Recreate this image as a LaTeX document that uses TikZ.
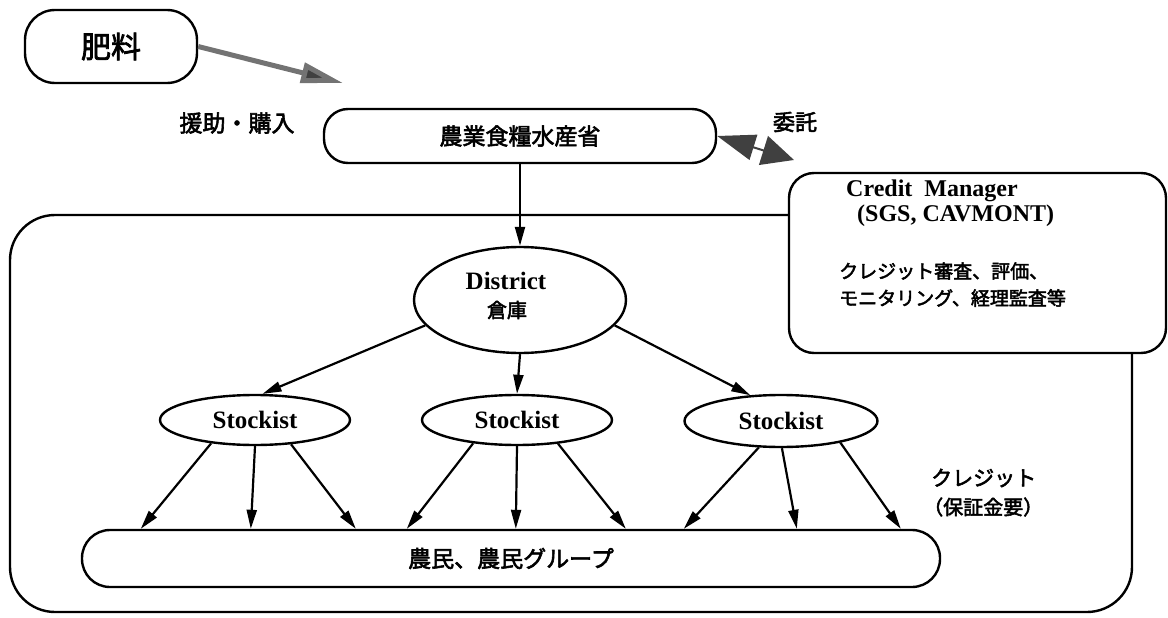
\documentclass[tikz,border=0pt]{standalone}
\usepackage{fontspec}
\setmainfont{Liberation Serif}
\newfontfamily\jp[FakeBold=2.5]{Noto Sans CJK JP}
\usetikzlibrary{arrows.meta,shapes.geometric}
\newcommand\myfs[1]{\fontsize{#1}{#1}\selectfont}
\begin{document}
\begin{tikzpicture}[x=1pt,y=-1pt,line width=2.4pt,
  rbox/.style={draw, rectangle, rounded corners=#1, inner sep=0pt, line width=2.4pt},
  ell/.style={draw, ellipse, inner sep=0pt, line width=2.4pt},
  arr/.style={-{Triangle[length=19pt,width=10pt]}, line width=2.2pt},
  hatcharr/.style={draw=black!55, line width=5pt, -{Triangle[length=42pt,width=20pt,fill=black!75]}},
  dblarr/.style={draw=black!75, line width=2pt, {Triangle[length=38pt,width=26pt]}-{Triangle[length=32pt,width=30pt]}},
  jtext/.style={font=\jp\myfs{#1}, inner sep=0pt},
  etext/.style={font=\bfseries\myfs{#1}, inner sep=0pt}]
\useasboundingbox (0,0) rectangle (1168,618);
% outer frame
\node[rbox=45pt, minimum width=1122pt, minimum height=397pt] (frame) at (571,413.5) {};
% credit manager box
\node[rbox=25pt, fill=white, minimum width=377pt, minimum height=180pt] (credit) at (977.5,263) {};
\node[etext=24, anchor=west] (cm1) at (845,191) {Credit\ \ Manager};
\node[etext=24, anchor=west] (cm2) at (856,216) {(SGS, CAVMONT)};
\node[jtext=19, anchor=west] (cm3) at (838,271) {クレジット審査、評価、};
\node[jtext=19, anchor=west] (cm4) at (838,298) {モニタリング、経理監査等};
% top boxes
\node[rbox=30pt, minimum width=172pt, minimum height=73pt, jtext=30] (hiryo) at (111,46.5) {肥料};
\node[jtext=23] (enjo) at (237,123) {援助・購入};
\node[rbox=24pt, minimum width=392pt, minimum height=54pt, jtext=23] (nogyo) at (520,136) {農業食糧水産省};
\node[jtext=22] (itaku) at (795,122) {委託};
\coordinate (hiryotip) at (343,83);
\coordinate (itakutip) at (794,160);
\draw[hatcharr] (hiryo.east) -- (hiryotip);
\draw[dblarr] (nogyo.east) -- (itakutip);
% district
\node[ell, minimum width=212pt, minimum height=106pt] (district) at (520,300) {};
\node[etext=25] (dt1) at (506,281) {District};
\node[jtext=20] (dt2) at (507,310) {倉庫};
\draw[arr] (nogyo.south) -- (district.north);
% stockists
\node[ell, minimum width=190pt, minimum height=50pt, etext=25] (s1) at (255,420) {Stockist};
\node[ell, minimum width=190pt, minimum height=50pt, etext=25] (s2) at (517,420) {Stockist};
\node[ell, minimum width=193pt, minimum height=52pt, etext=25] (s3) at (781,421) {Stockist};
\draw[arr] (district.195) -- (s1.74);
\draw[arr] (district.south) -- (s2.north);
\draw[arr] (district.-15) -- (s3.140);
% farmers bar
\node[rbox=28pt, minimum width=858pt, minimum height=57pt, jtext=23] (farm) at (511,558.5) {農民、農民グループ};
\draw[arr] (s1.-152) -- ([xshift=60pt]farm.north west);
\draw[arr] (s1.-90) -- ([xshift=170pt]farm.north west);
\draw[arr] (s1.-34) -- ([xshift=275pt]farm.north west);
\draw[arr] (s2.-152) -- ([xshift=326pt]farm.north west);
\draw[arr] (s2.-90) -- ([xshift=435pt]farm.north west);
\draw[arr] (s2.-30) -- ([xshift=545pt]farm.north west);
\draw[arr] (s3.-130) -- ([xshift=603pt]farm.north west);
\draw[arr] (s3.-88) -- ([xshift=716pt]farm.north west);
\draw[arr] (s3.-20) -- ([xshift=820pt]farm.north west);
% credit label
\node[jtext=21, anchor=west] (kr1) at (930,478) {クレジット};
\node[jtext=20, anchor=west] (kr2) at (922,507) {（保証金要）};
\end{tikzpicture}
\end{document}
